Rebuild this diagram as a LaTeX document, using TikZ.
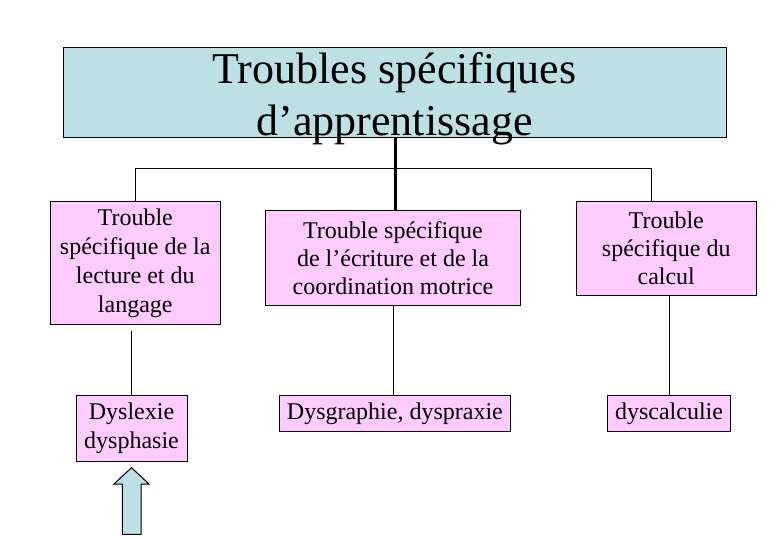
\documentclass[tikz,border=0pt]{standalone}
\usepackage{fontspec}
\setmainfont{Liberation Serif}
\definecolor{titleblue}{RGB}{189,224,228}
\definecolor{boxpink}{RGB}{255,204,255}
\begin{document}
\begin{tikzpicture}[x=1pt,y=-1pt,
  titlebox/.style={draw=black,line width=1pt,fill=titleblue,rectangle,inner sep=0pt,minimum width=663pt,minimum height=90pt},
  titletext/.style={inner sep=0pt,font=\fontsize{44}{52}\selectfont,anchor=base},
  pinkbox/.style={draw=black,line width=1pt,fill=boxpink,rectangle,inner sep=0pt,align=center,font=\fontsize{24}{29}\selectfont},
  thinline/.style={line width=1pt},
  thickline/.style={line width=2.5pt},
  blockarrow/.style={draw=black,line width=1pt,fill=titleblue,line join=miter}]
\useasboundingbox (0,0) rectangle (780,540);
% title
\node[titlebox] (title) at (394.5,93) {};
\node[titletext] (tt1) at (394.5,84) {Troubles spécifiques};
\node[titletext] (tt2) at (394.5,136) {d’apprentissage};
% second row
\node[pinkbox,minimum width=169.5pt,minimum height=123pt] (l1) at (135.25,263) {Trouble\\spécifique de la\\lecture et du\\langage};
\node[pinkbox,minimum width=255pt,minimum height=95pt,font=\fontsize{24}{28}\selectfont] (m1) at (393,258.5) {Trouble spécifique\\de l’écriture et de la\\coordination motrice};
\node[pinkbox,minimum width=180.5pt,minimum height=94pt,font=\fontsize{24}{28}\selectfont] (r1) at (666.25,248.4) {Trouble\\spécifique du\\calcul};
% third row
\node[pinkbox,minimum width=111pt,minimum height=65.5pt] (l2) at (131.5,428.25) {Dyslexie\\dysphasie};
\node[pinkbox,minimum width=231.2pt,minimum height=36.7pt] (m2) at (394.9,413.35) {Dysgraphie, dyspraxie};
\node[pinkbox,minimum width=123.4pt,minimum height=36.7pt] (r2) at (669,413.35) {dyscalculie};
% connectors
\coordinate (bar) at (395.7,169);
\draw[thickline] (title.south -| bar) -- (bar |- m1.north);
\draw[thinline] (l1.north) -- (l1.north |- bar) -- ([xshift=-14.5pt]r1.north |- bar) -- ([xshift=-14.5pt]r1.north);
\draw[thinline] ([yshift=-6.5pt]l1.south -| l2.north) -- (l2.north);
\draw[thinline] (m1.south) -- (m1.south |- m2.north);
\draw[thinline] (r2.north |- r1.south) -- (r2.north);
% block arrow
\draw[blockarrow] (131.5,467.7) -- (149,484) -- (141,484) -- (141,534.3) -- (122.3,534.3) -- (122.3,484) -- (114,484) -- cycle;
\end{tikzpicture}
\end{document}
